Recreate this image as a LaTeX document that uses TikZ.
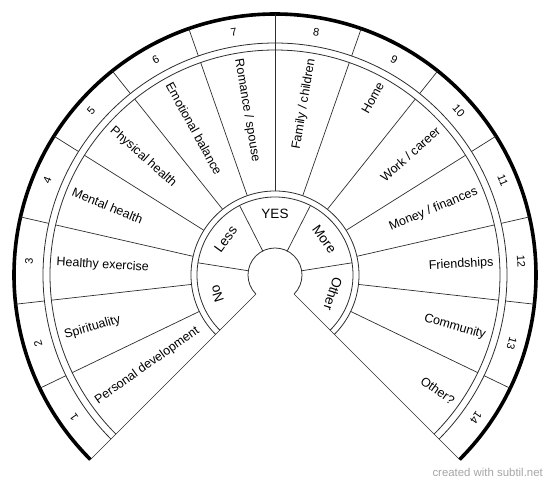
\documentclass[tikz,border=0pt]{standalone}
\usepackage{fontspec}
\setmainfont{Liberation Sans}
\usepackage{tikz}
\usetikzlibrary{calc}
\definecolor{wheelline}{RGB}{45,45,45}
\definecolor{creditgray}{RGB}{165,165,165}
\tikzset{
  rimline/.style={line width=3.6pt, black},
  ringline/.style={line width=0.8pt, wheelline},
  spokeline/.style={line width=0.7pt, wheelline},
  numlabel/.style={font=\fontsize{11}{11}\selectfont, inner sep=0pt},
  arealabel/.style={font=\fontsize{12.5}{12.5}\selectfont, inner sep=0pt},
  ratelabel/.style={font=\fontsize{13.5}{13.5}\selectfont, inner sep=0pt},
}
\newcommand{\wheelarc}[2][ringline]{%
  \draw[#1] (225:#2pt) arc[start angle=225, end angle=-45, radius=#2pt];}

\begin{document}
\begin{tikzpicture}[x=1pt, y=1pt]
  \useasboundingbox (-275,-207) rectangle (275,275);

  % Rings
  \wheelarc[rimline]{261}
  \wheelarc{232}
  \wheelarc{225}
  \wheelarc{84}
  \wheelarc{78}
  \wheelarc{27}

  % Open sides of the wheel
  \draw[spokeline] (225:27pt) -- (225:261pt);
  \draw[spokeline] (-45:27pt) -- (-45:261pt);

  % Spokes of the outer rings
  \foreach \k in {1,...,13} {
    \pgfmathsetmacro{\aspoke}{225-\k*270/14}
    \ifnum\k=7
      \draw[spokeline] (\aspoke:84pt) -- (\aspoke:261pt);
    \else
      \draw[spokeline] (\aspoke:84pt) -- (\aspoke:225pt);
      \draw[spokeline] (\aspoke:232pt) -- (\aspoke:261pt);
    \fi
  }

  % Numbers and life areas
  \foreach \area [count=\k] in {Personal development, Spirituality,
      Healthy exercise, Mental health, Physical health, Emotional balance,
      Romance / spouse, Family / children, Home, Work / career,
      Money / finances, Friendships, Community, Other?} {
    \pgfmathsetmacro{\amid}{225-(\k-0.5)*270/14}
    \node[numlabel, rotate=\amid-90] (num\k) at (\amid:246.5pt) {\k};
    \ifnum\k<8
      \node[arealabel, anchor=west, rotate=\amid+180] (area\k)
        at (\amid:219pt) {\area};
    \else
      \node[arealabel, anchor=east, rotate=\amid] (area\k)
        at (\amid:219pt) {\area};
    \fi
  }

  % Inner ring
  \foreach \i in {1,...,4}
    \draw[spokeline] (225-\i*54:27pt) -- (225-\i*54:78pt);
  \foreach \rate [count=\i] in {No, Less, YES, More, Other} {
    \pgfmathsetmacro{\bmid}{225-(\i-0.5)*54}
    \node[ratelabel, rotate=\bmid-90] (rate\i) at (\bmid:61pt) {\rate};
  }

  \node[font=\fontsize{11.4}{11.4}\selectfont, text=creditgray,
        anchor=base east, inner sep=0pt] (credit) at (268,-201)
    {created with subtil.net};
\end{tikzpicture}
\end{document}
